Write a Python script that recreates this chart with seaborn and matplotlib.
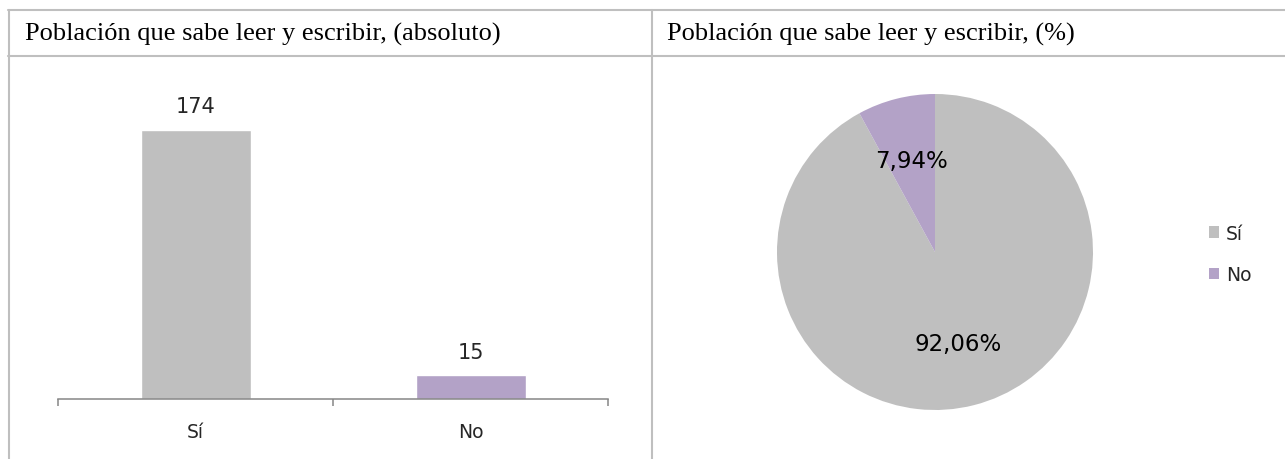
import numpy as np
import pandas as pd
import seaborn as sns
import matplotlib.pyplot as plt
from matplotlib.lines import Line2D
from matplotlib.patches import Patch

# data
categorias = ['Sí', 'No']
poblacion = [174, 15]
porcentajes = [92.06, 7.94]
colores = ['#BFBFBF', '#B3A2C7']
titulo_abs = 'Población que sabe leer y escribir, (absoluto)'
titulo_pct = 'Población que sabe leer y escribir, (%)'

sns.set_theme(style='white')
plt.rcParams['font.family'] = ['DejaVu Sans']

W, H = 1285, 460
fig = plt.figure(figsize=(W / 100, H / 100), dpi=100)
fig.patch.set_facecolor('white')

# table-like frame
borde = '#BFBFBF'
lw = 1.5
fig.add_artist(Line2D([8 / W, 1], [1 - 11 / H, 1 - 11 / H], color=borde, lw=lw))
fig.add_artist(Line2D([8 / W, 1], [1 - 57 / H, 1 - 57 / H], color=borde, lw=lw))
fig.add_artist(Line2D([9 / W, 9 / W], [0, 1 - 11 / H], color=borde, lw=lw))
fig.add_artist(Line2D([652 / W, 652 / W], [0, 1 - 11 / H], color=borde, lw=lw))

fig.text(25 / W, 1 - 34 / H, titulo_abs, family='Liberation Serif', fontsize=19,
         va='center', ha='left', color='black')
fig.text(667 / W, 1 - 34 / H, titulo_pct, family='Liberation Serif', fontsize=19,
         va='center', ha='left', color='black')

# bar chart
df = pd.DataFrame({'cat': categorias, 'valor': poblacion})
ax = fig.add_axes([58 / W, 60.4 / H, 550 / W, 309 / H])
sns.barplot(data=df, x='cat', y='valor', hue='cat', palette=colores, width=0.4,
            ax=ax, legend=False, saturation=1)
for c in ax.containers:
    ax.bar_label(c, padding=10, fontsize=15)
ax.set_xlim(-0.5, 1.5)
ax.set_ylim(0, 200)
ax.set_xlabel('')
ax.set_ylabel('')
ax.set_yticks([])
for s in ['top', 'right', 'left']:
    ax.spines[s].set_visible(False)
ax.spines['bottom'].set_color('#868686')
ax.spines['bottom'].set_linewidth(1.1)
ax.set_xticks([-0.5, 0.5, 1.5], minor=True)
ax.tick_params(axis='x', which='minor', bottom=True, length=5, width=1.1,
               color='#868686', direction='out')
ax.tick_params(axis='x', which='major', length=0, pad=17, labelsize=13.5)
ax.set_facecolor('none')

# pie chart
ax2 = fig.add_axes([(935 - 158) / W, (H - 253 - 158) / H, 316 / W, 316 / H])
wedges, texts, autotexts = ax2.pie(porcentajes, colors=colores, startangle=90,
                                   counterclock=False, autopct=lambda p: f'{p:.2f}%'.replace('.', ','),
                                   pctdistance=0.6, wedgeprops=dict(linewidth=0))
for t in autotexts:
    t.set_fontsize(16.5)
    t.set_color('black')
ax2.set_xlim(-1, 1)
ax2.set_ylim(-1, 1)

handles = [Patch(facecolor=c, edgecolor='none') for c in colores]
fig.legend(handles, categorias, loc='center left', bbox_to_anchor=(1209 / W, 1 - 255 / H),
           frameon=False, fontsize=13.5, handlelength=0.55, handleheight=0.55,
           handletextpad=0.35, labelspacing=1.2, borderpad=0, borderaxespad=0)

fig.savefig('out.png', dpi=100, facecolor='white')
